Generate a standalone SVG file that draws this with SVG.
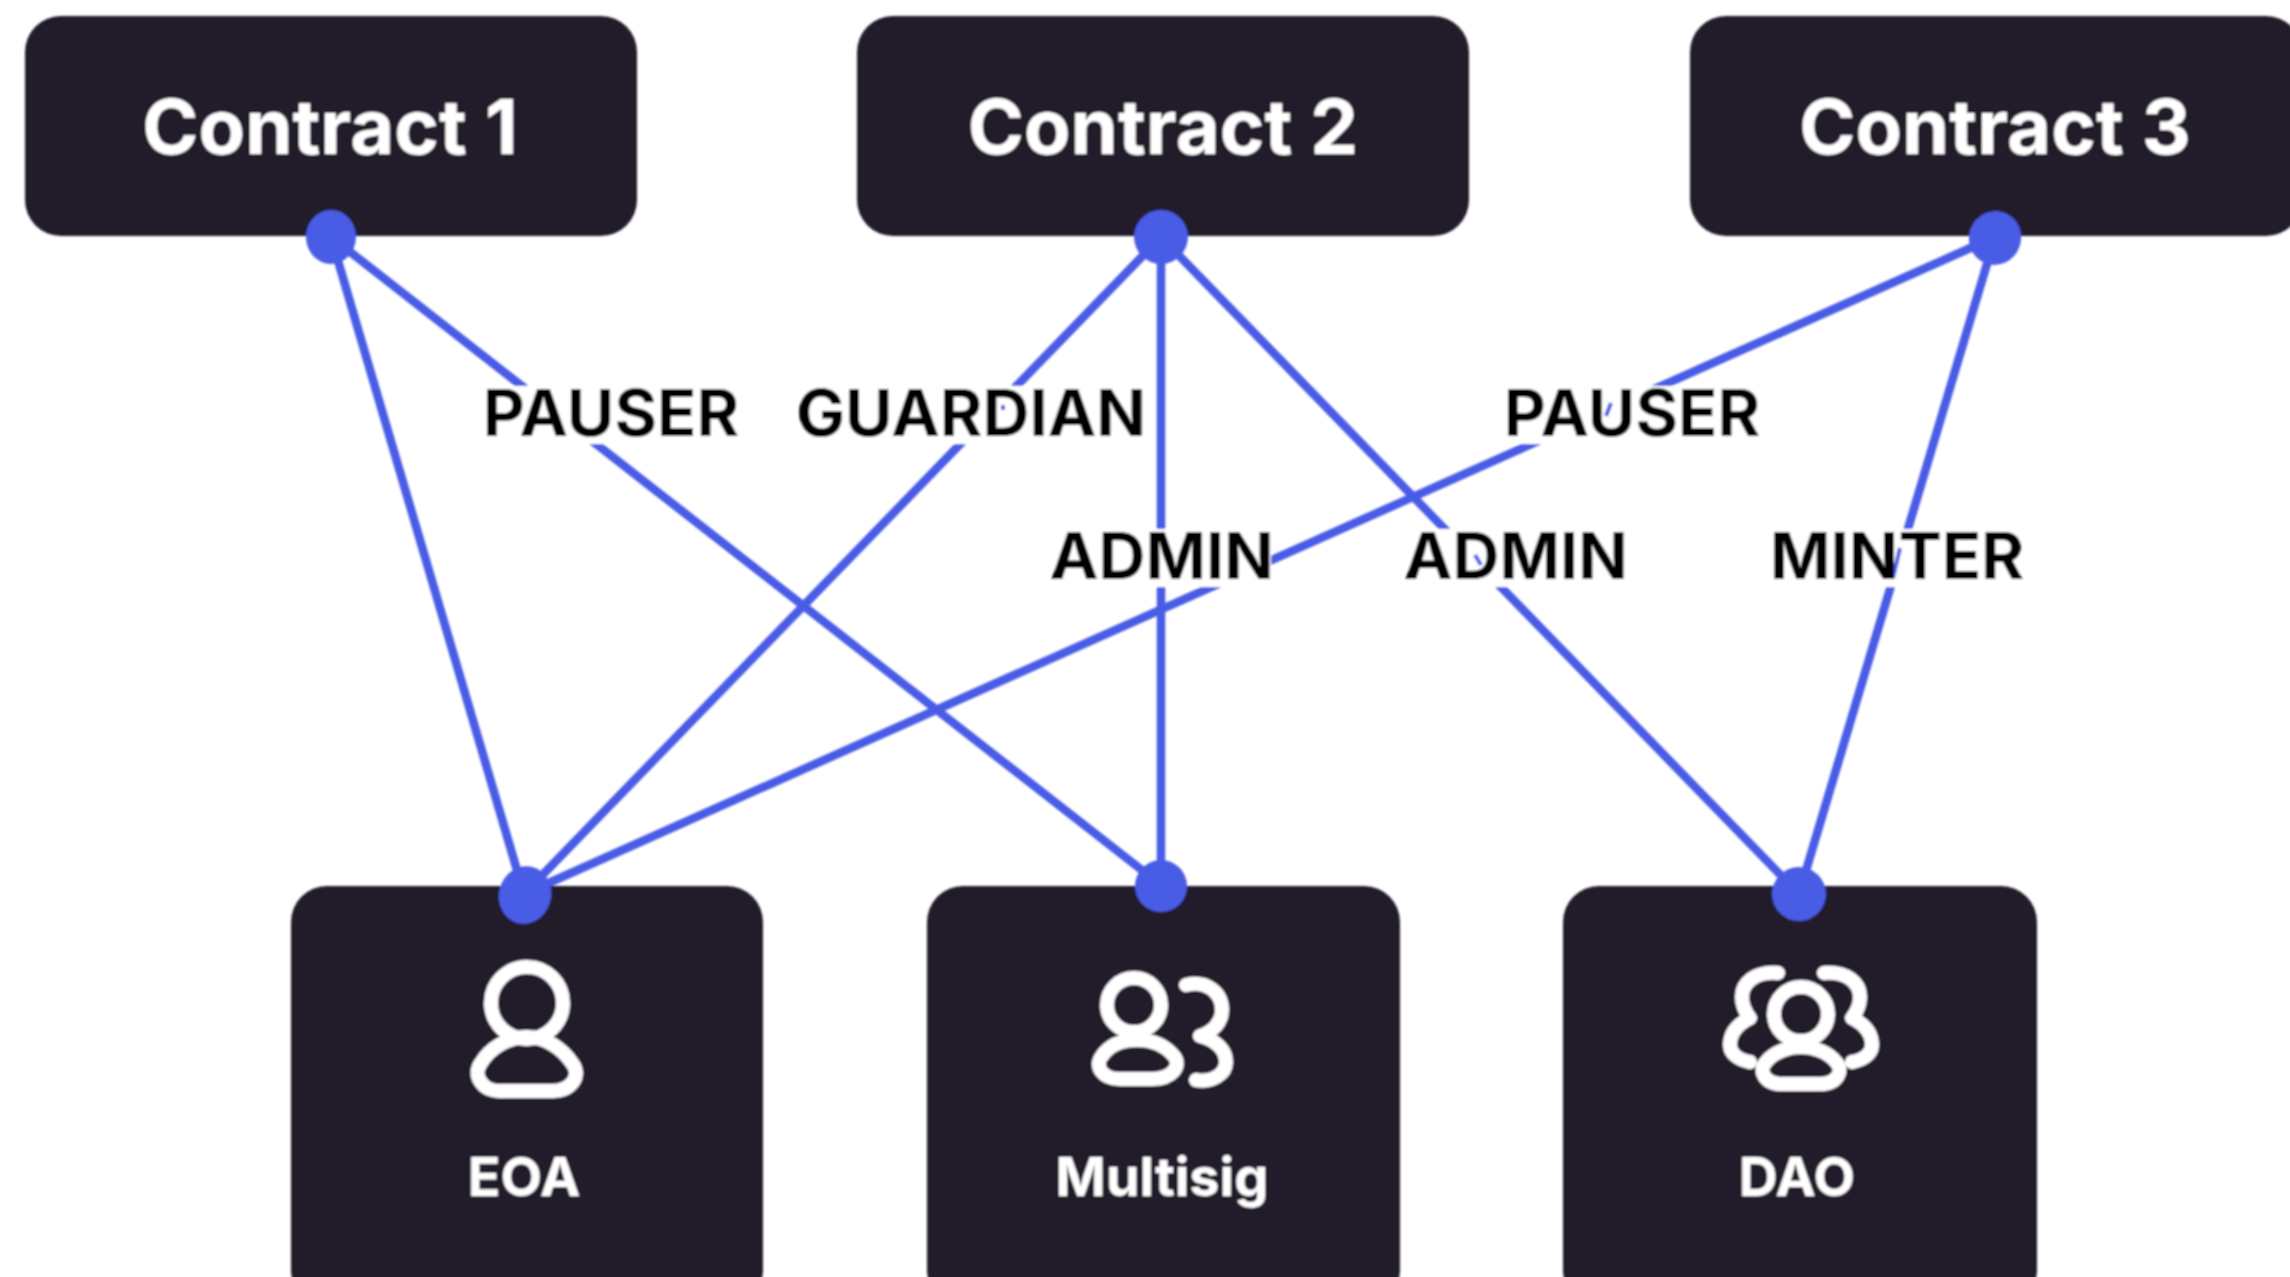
<svg xmlns="http://www.w3.org/2000/svg" width="2290" height="1277" viewBox="0 0 2290 1277">
<style>
.box{fill:#211f2c}
.t{font-family:Inter,"Liberation Sans",sans-serif;font-weight:700;text-anchor:middle}
.title{font-size:76px;fill:#fff}
.name{font-size:54px;fill:#fff}
.role{font-size:65px;fill:#000}
.mask{fill:#fff}
.link{stroke:#4a5ce6;stroke-width:8.5;fill:none}
.bit{stroke:#4a5ce6;stroke-width:4;fill:none}
.dot{fill:#4a5ce6}
.icon{fill:none;stroke:#fff;stroke-width:14;stroke-linecap:round;stroke-linejoin:round}
</style>
<defs><filter id="soft" x="-2%" y="-2%" width="104%" height="104%"><feGaussianBlur stdDeviation="0.9"/></filter></defs>
<rect width="2290" height="1277" fill="#fff"/>
<g filter="url(#soft)">
<g id="contract-1"><rect class="box" x="25" y="16" width="612" height="220" rx="36"/><text class="t title" x="330" y="154">Contract 1</text></g>
<g id="contract-2"><rect class="box" x="857" y="16" width="612" height="220" rx="36"/><text class="t title" x="1163" y="154">Contract 2</text></g>
<g id="contract-3"><rect class="box" x="1690" y="16" width="612" height="220" rx="36"/><text class="t title" x="1995" y="154">Contract 3</text></g>
<g id="eoa"><rect class="box" x="291" y="886" width="472" height="420" rx="36"/>
<circle class="icon" cx="527" cy="1003" r="36"/>
<path class="icon" d="M500 1091H552C572 1091 582 1075 572 1063C562 1048 545 1037 527 1037C508 1037 490 1048 481 1063C472 1075 482 1091 500 1091Z"/>
<text class="t name" x="524" y="1196">EOA</text></g>
<g id="multisig"><rect class="box" x="927" y="886" width="473" height="420" rx="36"/>
<circle class="icon" cx="1134" cy="1005" r="27"/>
<path class="icon" d="M1120 1079H1152C1172 1079 1182 1066 1174 1056C1164 1044 1150 1040 1137 1040C1122 1040 1110 1044 1102 1056C1094 1066 1102 1079 1120 1079Z"/>
<path class="icon" d="M1186 985C1206 980 1222 992 1222 1010C1222 1022 1213 1032 1200 1036C1216 1040 1226 1050 1226 1062C1226 1074 1212 1083 1196 1080"/>
<text class="t name" x="1162" y="1196">Multisig</text></g>
<g id="dao"><rect class="box" x="1563" y="886" width="474" height="420" rx="36"/>
<circle class="icon" cx="1801" cy="1014" r="27"/>
<path class="icon" d="M1782 1084H1820C1838 1084 1844 1070 1836 1062C1828 1052 1814 1047 1801 1047C1788 1047 1774 1052 1766 1062C1758 1070 1764 1084 1782 1084Z"/>
<path class="icon" d="M1778 973C1755 971 1742 983 1742 997C1742 1006 1746 1013 1750 1018C1738 1024 1730 1033 1730 1045C1730 1054 1739 1060 1750 1062"/>
<path class="icon" d="M1824 973C1847 971 1860 983 1860 997C1860 1006 1856 1013 1852 1018C1864 1024 1872 1033 1872 1045C1872 1054 1863 1060 1852 1062"/>
<text class="t name" x="1797" y="1196">DAO</text></g>
<g id="connectors">
<line class="link" x1="331" y1="237" x2="524" y2="894"/>
<line class="link" x1="331" y1="237" x2="1161" y2="885"/>
<line class="link" x1="1161" y1="237" x2="524" y2="894"/>
<line class="link" x1="1161" y1="237" x2="1161" y2="885"/>
<line class="link" x1="1161" y1="237" x2="1799" y2="894"/>
<line class="link" x1="1995" y1="237" x2="524" y2="894"/>
<line class="link" x1="1995" y1="237" x2="1799" y2="894"/>
<ellipse class="dot" cx="331" cy="237" rx="25" ry="27"/><circle class="dot" cx="1161" cy="237" r="27"/><ellipse class="dot" cx="1995" cy="238" rx="26" ry="27" transform="rotate(20 1995 238)"/>
<ellipse class="dot" cx="525" cy="895" rx="26" ry="29" transform="rotate(15 525 895)"/><circle class="dot" cx="1161" cy="886" r="26"/><circle class="dot" cx="1799" cy="894" r="27"/>
</g>
<g id="labels">
<rect class="mask" x="485" y="386" width="253" height="58"/>
<rect class="mask" x="800" y="386" width="342" height="58"/>
<rect class="mask" x="1506" y="386" width="252" height="58"/>
<rect class="mask" x="1054" y="529" width="217" height="58"/>
<rect class="mask" x="1408" y="529" width="217" height="58"/>
<rect class="mask" x="1773" y="529" width="248" height="58"/>
<line class="bit" x1="1606" y1="416" x2="1611" y2="403"/>
<line class="bit" x1="1900" y1="548" x2="1893" y2="578"/>
<line class="bit" x1="1475" y1="555" x2="1481" y2="565"/>
<line class="bit" x1="1003" y1="405" x2="1003" y2="410"/>
<text class="t role" x="611" y="436">PAUSER</text>
<text class="t role" x="971" y="436">GUARDIAN</text>
<text class="t role" x="1632" y="436">PAUSER</text>
<text class="t role" x="1162" y="579">ADMIN</text>
<text class="t role" x="1516" y="579">ADMIN</text>
<text class="t role" x="1897" y="579">MINTER</text>
</g>
</g>
</svg>
